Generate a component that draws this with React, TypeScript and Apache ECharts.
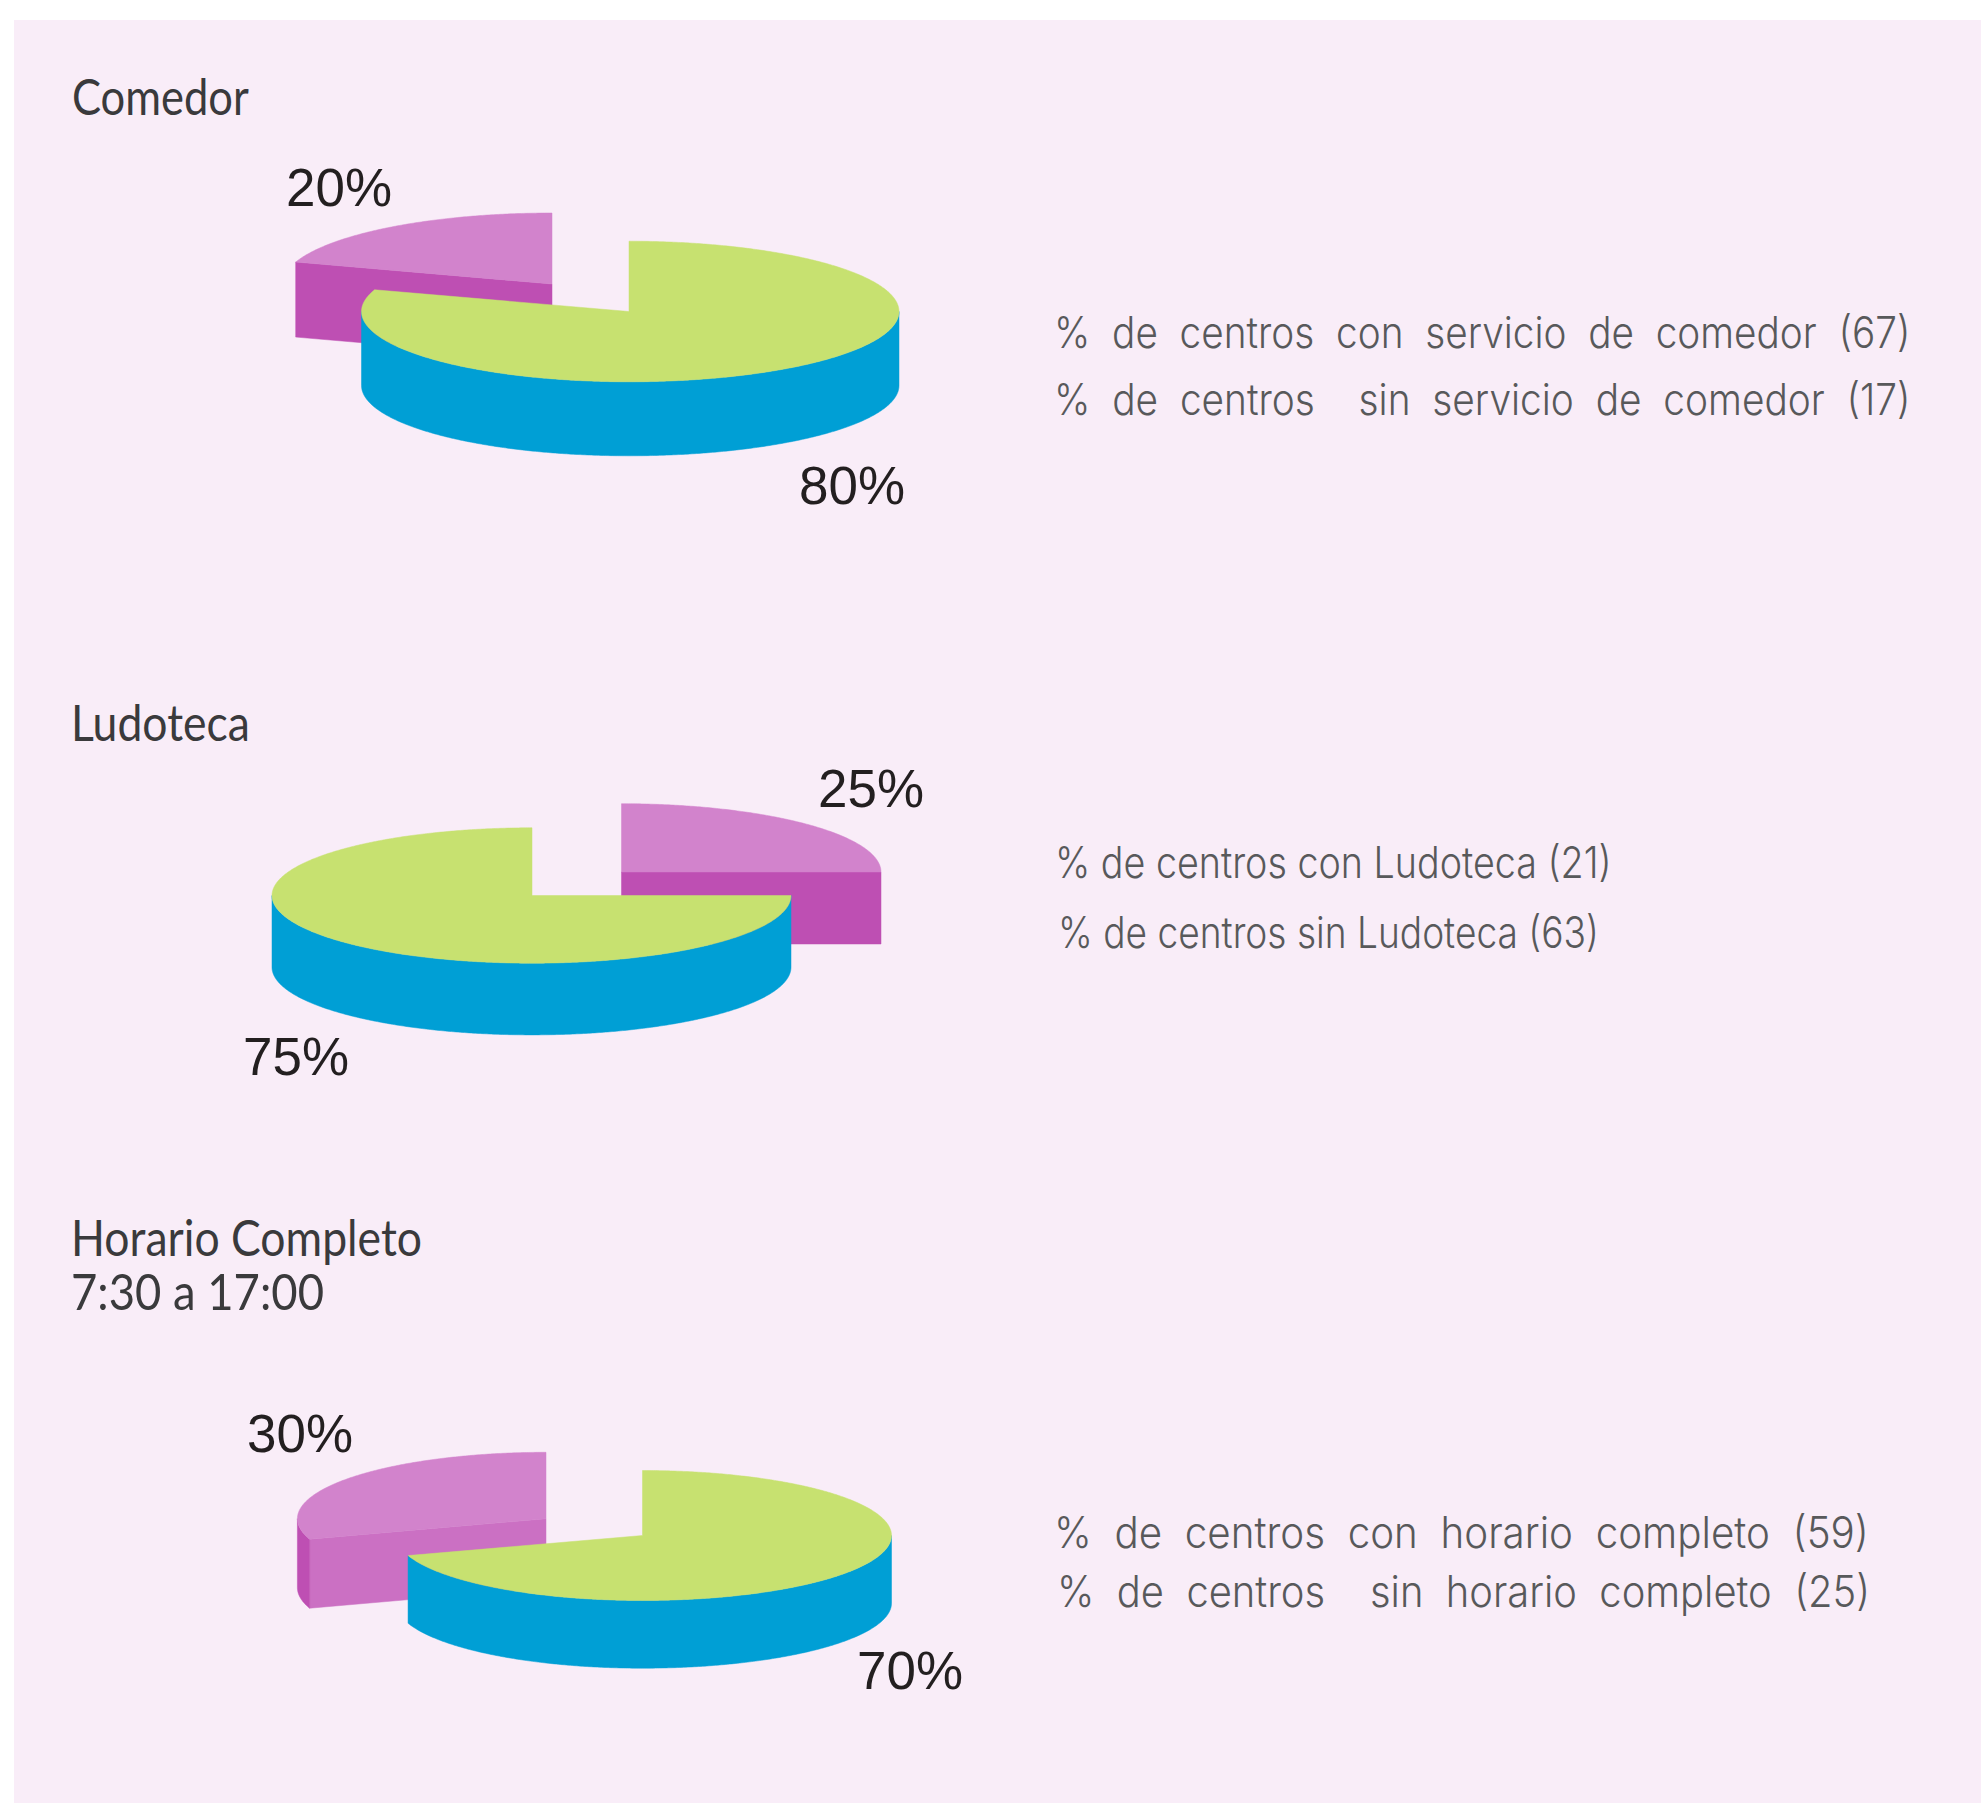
import React, { useEffect, useRef } from "react";
import * as echarts from "echarts";

const WIDTH = 1981;
const HEIGHT = 1803;

// ---- data ----
const pieTitles = ["Comedor", "Ludoteca", "Horario Completo\n7:30 a 17:00"];
const greenPct = [80, 75, 70];
const purplePct = [20, 25, 30];
const purpleFirst = [false, true, false];
const legendFirstLines = [
  "%  de  centros  con  servicio  de  comedor  (67)",
  "% de centros con Ludoteca (21)",
  "%  de  centros  con  horario  completo  (59)",
];
const legendSecondLines = [
  "%  de  centros    sin  servicio  de  comedor  (17)",
  "% de centros sin Ludoteca (63)",
  "%  de  centros    sin  horario  completo  (25)",
];

// ---- layout ----
const greenDisc = [
  { cx: 629, cy: 311.5, rx: 270, rxL: 267.5, ry: 70.3, depth: 74 },
  { cx: 532, cy: 895.5, rx: 259, rxL: 260, ry: 67.7, depth: 71.7 },
  { cx: 642.5, cy: 1535.5, rx: 249, rxL: 246.5, ry: 65, depth: 67.7 },
];
const purpleDisc = [
  { cx: 552, cy: 284, rx: 270, rxL: 269.5, ry: 71, depth: 75 },
  { cx: 621.5, cy: 872, rx: 259.5, rxL: 259.5, ry: 68.3, depth: 72 },
  { cx: 546, cy: 1518.7, rx: 248.6, rxL: 248.6, ry: 66.4, depth: 69 },
];
const purpleFaceColors = ["#BE4FB3", "#BE4FB3", "#CB70C3"];
const labelPos = {
  green: [{ x: 799, y: 504 }, { x: 243, y: 1075 }, { x: 857, y: 1689 }],
  purple: [{ x: 286, y: 206 }, { x: 818, y: 807 }, { x: 247, y: 1452 }],
};
const titleLines = [
  { x: 72, y: 115, w: 177 },
  { x: 71, y: 741, w: 179 },
  { x: 71, y: 1256, w: 351 },
  { x: 71, y: 1309, w: 253 },
];
const legendPos = [
  { a: { x: 1054, y: 348, w: 857 }, b: { x: 1054, y: 415, w: 857 } },
  { a: { x: 1055, y: 879, w: 557 }, b: { x: 1058, y: 948, w: 541 } },
  { a: { x: 1054, y: 1549, w: 815 }, b: { x: 1057, y: 1607, w: 813 } },
];

const FONT_LEGEND = '300 43px Inter';
const FONT_LABEL = '400 54px "Liberation Sans"';
const FONT_TITLE = '400 51px Lato';

const ctx = document.createElement("canvas").getContext("2d") as CanvasRenderingContext2D;

function textItem(text: string, x: number, baseline: number, font: string, fill: string, targetWidth?: number) {
  ctx.font = font;
  const m = ctx.measureText(text);
  const asc = m.fontBoundingBoxAscent;
  const desc = m.fontBoundingBoxDescent;
  const scaleX = targetWidth ? targetWidth / m.width : 1;
  return {
    type: "text",
    x,
    y: baseline - (asc - desc) / 2,
    scaleX,
    style: { text, font, fill, verticalAlign: "middle", align: "left" },
  };
}

function arcPoint(d: any, deg: number, dy = 0) {
  const r = (deg * Math.PI) / 180;
  const s = Math.sin(r);
  return [d.cx + (s >= 0 ? d.rx : d.rxL) * s, d.cy - d.ry * Math.cos(r) + dy];
}

function arcPoints(d: any, from: number, to: number, dy = 0) {
  const pts: number[][] = [];
  const n = Math.max(2, Math.ceil(Math.abs(to - from) * 2));
  for (let i = 0; i <= n; i++) pts.push(arcPoint(d, from + ((to - from) * i) / n, dy));
  return pts;
}

function sliceShapes(d: any, startPct: number, pct: number, top: string, side: string, face: string) {
  const a0 = (startPct / 100) * 360;
  const a1 = ((startPct + pct) / 100) * 360;
  const out: any[] = [];
  const poly = (points: number[][], fill: string) =>
    out.push({ type: "polygon", shape: { points }, style: { fill, stroke: fill, lineWidth: 0.5 } });
  const radial = (a: number) => {
    const p = arcPoint(d, a);
    poly([[d.cx, d.cy], p, [p[0], p[1] + d.depth], [d.cx, d.cy + d.depth]], face);
  };
  if (Math.sin((a0 * Math.PI) / 180) < -1e-6) radial(a0);
  if (Math.sin((a1 * Math.PI) / 180) > 1e-6) radial(a1);
  const s0 = Math.max(a0, 90);
  const s1 = Math.min(a1, 270);
  if (s1 > s0) {
    poly([...arcPoints(d, s0, s1), ...arcPoints(d, s1, s0, d.depth)], side);
  }
  poly([[d.cx, d.cy], ...arcPoints(d, a0, a1)], top);
  return out;
}

const rows: any[] = [];
greenPct.forEach((g, i) => {
  const p = purplePct[i];
  const pStart = purpleFirst[i] ? 0 : g;
  const gStart = purpleFirst[i] ? p : 0;
  rows.push([i, 1, pStart, p]);
  rows.push([i, 0, gStart, g]);
});

export default function App() {
  const ref = useRef<HTMLDivElement>(null);
  useEffect(() => {
    document.body.style.margin = "0";
    document.body.style.background = "#fff";
    const chart = echarts.init(ref.current!, null, { renderer: "svg" });
    const graphics: any[] = [
      { type: "rect", z: -1, shape: { x: 14, y: 20, width: WIDTH - 14, height: HEIGHT - 20 }, style: { fill: "#F9EDF8" } },
    ];
    const titleStrs = pieTitles.flatMap((t) => t.split("\n"));
    titleStrs.forEach((t, i) => {
      const p = titleLines[i];
      graphics.push(textItem(t, p.x, p.y, FONT_TITLE, "#3A3A3C", p.w));
    });
    greenPct.forEach((g, i) => {
      const a = labelPos.green[i];
      const b = labelPos.purple[i];
      graphics.push(textItem(`${g}%`, a.x, a.y, FONT_LABEL, "#231F20", 106));
      graphics.push(textItem(`${purplePct[i]}%`, b.x, b.y, FONT_LABEL, "#231F20", 106));
      const l = legendPos[i];
      graphics.push(textItem(legendFirstLines[i], l.a.x, l.a.y, FONT_LEGEND, "#58595B", l.a.w));
      graphics.push(textItem(legendSecondLines[i], l.b.x, l.b.y, FONT_LEGEND, "#58595B", l.b.w));
    });
    chart.setOption({
      animation: false,
      backgroundColor: "#ffffff",
      graphic: { elements: graphics },
      series: [
        {
          type: "custom",
          coordinateSystem: "none",
          silent: true,
          z: 5,
          data: rows,
          renderItem: (_: any, api: any) => {
            const pie = api.value(0);
            const isPurple = api.value(1) === 1;
            const d = isPurple ? purpleDisc[pie] : greenDisc[pie];
            const children = isPurple
              ? sliceShapes(d, api.value(2), api.value(3), "#D283CC", "#BE4FB3", purpleFaceColors[pie])
              : sliceShapes(d, api.value(2), api.value(3), "#C7E170", "#009FD5", "#009FD5");
            return { type: "group", children };
          },
        },
      ],
    });
    return () => chart.dispose();
  }, []);
  return <div ref={ref} style={{ position: "absolute", left: 0, top: 0, width: WIDTH, height: HEIGHT }} />;
}
